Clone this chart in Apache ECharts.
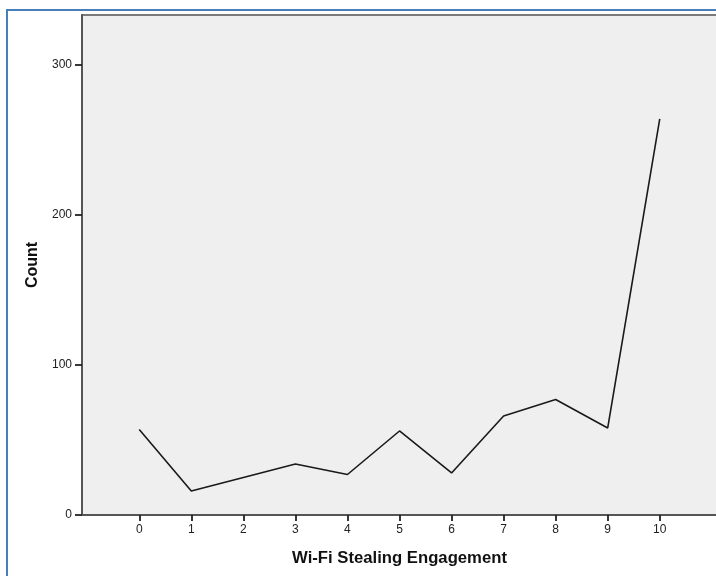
<!DOCTYPE html>
<html>
<head>
<meta charset="utf-8">
<script src="https://cdn.jsdelivr.net/npm/echarts@6/dist/echarts.min.js"></script>
<style>
html,body{margin:0;padding:0;background:#fff;}
#chart{width:716px;height:576px;}
</style>
</head>
<body>
<div id="chart"></div>
<script>
var categories = [0, 1, 2, 3, 4, 5, 6, 7, 8, 9, 10];
var counts = [57, 16, 25, 34, 27, 56, 28, 66, 77, 58, 264];
var yTicks = [0, 100, 200, 300];
var xTitle = 'Wi-Fi Stealing Engagement';
var yTitle = 'Count';

var chart = echarts.init(document.getElementById('chart'), null, {renderer: 'canvas'});
var font = '"Liberation Sans", Arial, sans-serif';
chart.setOption({
  animation: false,
  backgroundColor: '#ffffff',
  graphic: [{
    type: 'rect',
    shape: {x: 7, y: 10, width: 760, height: 620},
    style: {fill: 'none', stroke: '#4a7ebb', lineWidth: 2},
    silent: true
  }],
  grid: {
    left: 82, top: 15, width: 640, bottom: 61,
    outerBoundsMode: 'none', containLabel: false,
    show: true, backgroundColor: '#efefef', borderColor: '#7a7a7a', borderWidth: 2
  },
  xAxis: {
    type: 'value', min: -1.1, max: 11.196,
    name: xTitle, nameLocation: 'middle', nameGap: 35,
    nameTextStyle: {fontFamily: font, fontSize: 16.7, fontWeight: 'bold', color: '#111', padding: [0, 5, 0, 0]},
    axisLine: {show: true, onZero: false, lineStyle: {color: '#555', width: 2}},
    axisTick: {show: true, length: 6, lineStyle: {color: '#222', width: 1.8}, customValues: categories},
    axisLabel: {fontFamily: font, fontSize: 12, color: '#222', margin: 9, customValues: categories},
    splitLine: {show: false}
  },
  yAxis: {
    type: 'value', min: 0, max: 333.3,
    name: yTitle, nameLocation: 'middle', nameGap: 38, nameRotate: 90,
    nameTextStyle: {fontFamily: font, fontSize: 16, fontWeight: 'bold', color: '#111'},
    axisLine: {show: true, onZero: false, lineStyle: {color: '#555', width: 2}},
    axisTick: {show: true, length: 7, lineStyle: {color: '#222', width: 1.8}, customValues: yTicks},
    axisLabel: {fontFamily: font, fontSize: 12, color: '#222', margin: 10, customValues: yTicks},
    splitLine: {show: false}
  },
  series: [{
    type: 'line',
    data: categories.map(function (c, i) { return [c, counts[i]]; }),
    showSymbol: false,
    lineStyle: {color: '#1a1a1a', width: 1.6},
    silent: true
  }]
});
</script>
</body>
</html>
